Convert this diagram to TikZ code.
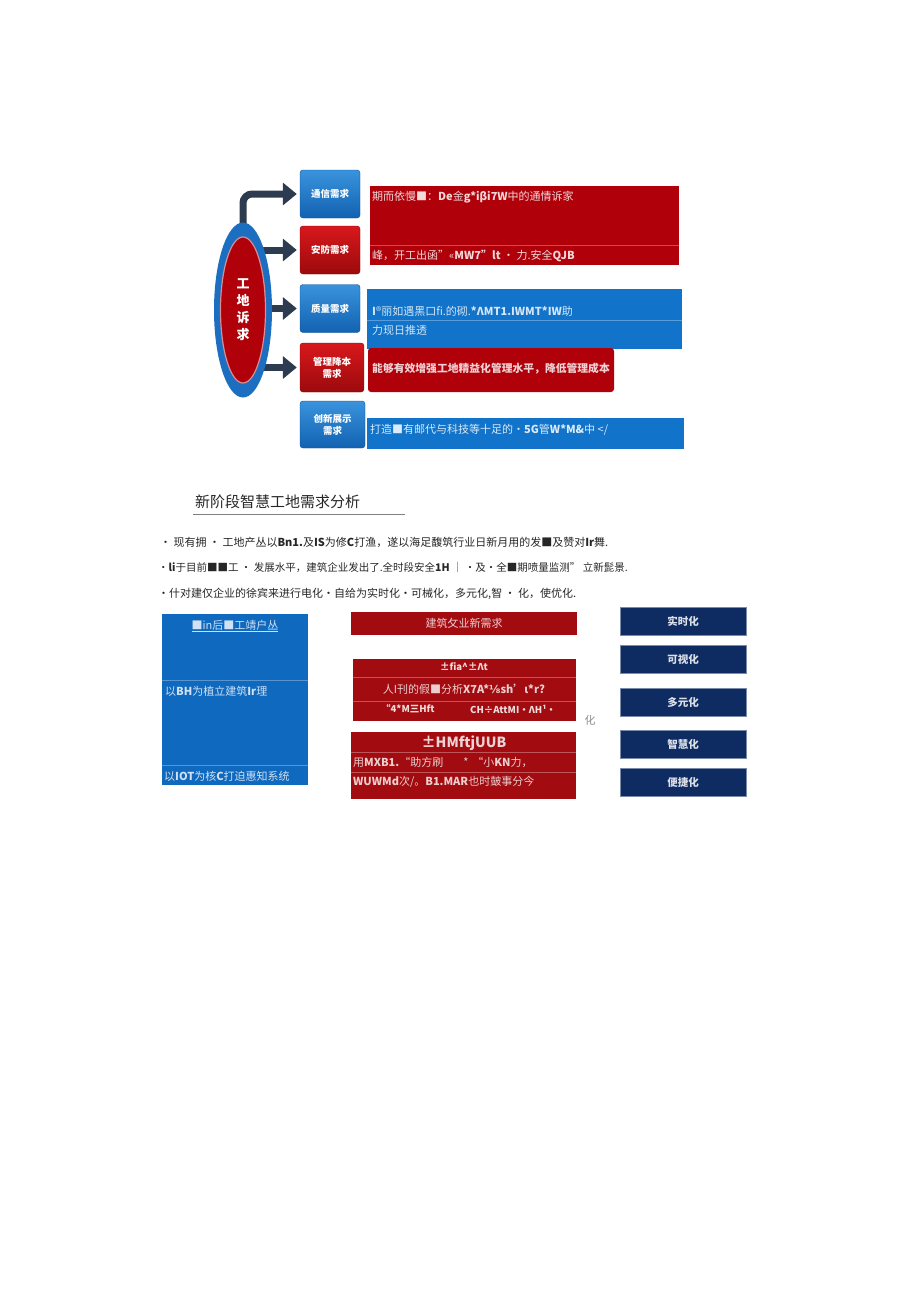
\documentclass[tikz,border=0pt]{standalone}
\usepackage{fontspec}
\setmainfont{Noto Sans CJK SC}
\newfontfamily\dejavu{DejaVu Sans}
\usetikzlibrary{arrows.meta,backgrounds,shapes.geometric}
\definecolor{barred}{HTML}{B0000A}
\definecolor{barblue}{HTML}{1173C9}
\definecolor{boxred}{HTML}{A20C10}
\definecolor{panelblue}{HTML}{0F69BE}
\definecolor{navybox}{HTML}{0E2C62}
\definecolor{arrowgray}{HTML}{2C3B4F}
\definecolor{ellblue}{HTML}{1C6FC0}
\definecolor{needblueA}{HTML}{3A93DC}
\definecolor{needblueB}{HTML}{1262B2}
\definecolor{needredA}{HTML}{D8181C}
\definecolor{needredB}{HTML}{9C0A0C}
\tikzset{
  needbox/.style={rounded corners=3pt, minimum width=60pt, minimum height=48pt, inner sep=0pt,
    text=white, font=\fontsize{9.5}{12}\selectfont\bfseries, align=center},
  needblue/.style={needbox, top color=needblueA, bottom color=needblueB, draw=needblueB!80!black},
  needred/.style={needbox, top color=needredA, bottom color=needredB, draw=needredB!80!black},
  bigarrow/.style={arrowgray, line width=7pt, -{Triangle[length=14pt,width=22pt]}, shorten >=3pt},
  descbar/.style={anchor=north west, inner sep=0pt, outer sep=0pt},
  barline/.style={draw=white!30!#1, line width=0.6pt},
  bartext/.style={anchor=west, inner sep=0pt, font=\fontsize{11}{13}\selectfont},
  navytag/.style={fill=navybox, draw=navybox!55!white, line width=0.8pt, minimum width=126pt,
    minimum height=28pt, inner sep=0pt, text=white!85!navybox, font=\fontsize{10.5}{12}\selectfont\bfseries},
  bullet/.style={anchor=west, inner sep=0pt, text=black!85, font=\fontsize{11}{13}\selectfont}
}

\begin{document}
\begin{tikzpicture}[x=1pt,y=-1pt]
\useasboundingbox (0,0) rectangle (920,1301);

% site needs
\node[ellipse, fill=ellblue, minimum width=58pt, minimum height=175pt, inner sep=0pt] (ell) at (243,310) {};
\node[ellipse, fill=barred, draw=white!55!barred, line width=1.2pt, minimum width=45pt, minimum height=146pt,
  inner sep=0pt, text=white, align=center, font=\fontsize{13}{17}\selectfont\bfseries] (core) at (243,310) {工\\地\\诉\\求};

\node[needblue] (n1) at (330,194) {通信需求};
\node[needred] (n2) at (330,250) {安防需求};
\node[needblue] (n3) at (330,308.5) {质量需求};
\node[needred, minimum width=64pt, minimum height=49pt] (n4) at (332,367.5) {管理降本\\需求};
\node[needblue, minimum width=65pt, minimum height=47pt] (n5) at (332.5,424.5) {创新展示\\需求};

\begin{scope}[on background layer]
  \draw[bigarrow, rounded corners=9pt] (ell.center) |- (n1.west);
  \draw[bigarrow] (ell.center |- n2.west) -- (n2.west);
  \draw[bigarrow] (ell.center |- n3.west) -- (n3.west);
  \draw[bigarrow] (ell.center |- n4.west) -- (n4.west);
\end{scope}

\node[descbar, fill=barred, minimum width=309pt, minimum height=79pt] (d1) at (370,186) {};
\draw[barline=barred] (370,245) -- (679,245);
\node[bartext, text=white!85!barred] (d1a) at (372,197) {期而依慢■：\textbf{De}金\textbf{g*iβi7W}中的通情诉家};
\node[bartext, text=white!85!barred] (d1b) at (372,256) {峰，开工出函"«\textbf{MW7"lt} · 力.安全\textbf{QJB}};

\node[descbar, fill=barblue, minimum width=315pt, minimum height=60pt] (d2) at (367,289) {};
\draw[barline=barblue] (367,320) -- (682,320);
\node[bartext, text=white!82!barblue] (d2a) at (372,311) {\textbf{I}®丽如遇黑口fi.的砌.\textbf{*ΛMT1.IWMT*IW}助};
\node[bartext, text=white!82!barblue] (d2b) at (372,330) {力现日推透};

\node[descbar, fill=barred, rounded corners=3pt, minimum width=246pt, minimum height=44pt] (d3) at (368,348) {};
\node[bartext, text=white!82!barred, font=\fontsize{10.8}{12}\selectfont\bfseries] (d3a) at (372,369) {能够有效增强工地精益化管理水平，降低管理成本};

\node[descbar, fill=barblue, minimum width=317pt, minimum height=31pt] (d4) at (367,418) {};
\node[bartext, text=white!85!barblue] (d4a) at (370,430) {打造■有邮代与科技等十足的·\textbf{5G}管\textbf{W*M\&}中 </};

% analysis
\node[anchor=west, inner sep=0pt, text=black!85, font=\fontsize{15}{17}\selectfont] (title) at (195,502) {新阶段智慧工地需求分析};
\draw[black!50, line width=0.8pt] (193,514) -- (405,514);

\node[bullet] (l1) at (160,542) {· 现有拥 · 工地产丛以\textbf{Bn1.}及\textbf{IS}为修\textbf{C}打渔，遂以海足馥筑行业日新月用的发■及赞对\textbf{Ir}舞.};
\node[bullet, font=\fontsize{10.5}{12}\selectfont] (l2) at (158,568) {•\textbf{li}于目前■■工 · 发展水平，建筑企业发出了.全时段安全\textbf{1H} │ ·及•全■期喷量监测” 立新髭景.};
\node[bullet] (l3) at (158,594) {•什对建仅企业的徐宾来进行电化•自给为实时化•可械化，多元化,智 · 化，使优化.};

\node[descbar, fill=panelblue, minimum width=146pt, minimum height=171pt] (iot) at (162,614) {};
\draw[barline=panelblue] (162,680) -- (308,680);
\draw[barline=panelblue] (162,765) -- (308,765);
\node[inner sep=0pt, text=white!80!panelblue, font=\fontsize{11}{13}\selectfont] (iota) at (235,626) {\underline{■in后■工靖户丛}};
\node[bartext, text=white!80!panelblue] (iotb) at (165,691) {以\textbf{BH}为植立建筑\textbf{Ir}理};
\node[bartext, text=white!80!panelblue] (iotc) at (164,776) {以\textbf{IOT}为核\textbf{C}打迫惠知系统};

\node[descbar, fill=boxred, minimum width=226pt, minimum height=23pt] (r1) at (351,612) {};
\node[inner sep=0pt, text=white!80!boxred, font=\fontsize{11}{13}\selectfont] (r1a) at (464,623.5) {建筑攵业新需求};

\node[descbar, fill=boxred, minimum width=223pt, minimum height=62pt] (r2) at (353,659) {};
\draw[barline=boxred] (353,677) -- (576,677);
\draw[barline=boxred] (353,701) -- (576,701);
\node[inner sep=0pt, text=white!85!boxred, font=\fontsize{9.5}{11}\selectfont\bfseries] (r2a) at (464,667) {±fia\^{}±Λt};
\node[inner sep=0pt, text=white!80!boxred, font=\fontsize{11}{13}\selectfont] (r2b) at (464,689) {人I刊的假■分析\textbf{X7A*{\dejavu ⅛}sh'ι*r?}};
\node[bartext, text=white!85!boxred, font=\fontsize{9.5}{11}\selectfont\bfseries] (r2c) at (381,709) {“4*M三Hft};
\node[bartext, text=white!85!boxred, font=\fontsize{9.5}{11}\selectfont\bfseries] (r2d) at (470,709) {CH÷AttMI·ΛH¹·};

\node[descbar, fill=boxred, minimum width=225pt, minimum height=67pt] (r3) at (351,732) {};
\draw[barline=boxred] (351,752) -- (576,752);
\draw[barline=boxred] (351,772) -- (576,772);
\node[inner sep=0pt, text=white!82!boxred, font=\fontsize{14}{16}\selectfont\bfseries] (r3a) at (464,743) {±HMftjUUB};
\node[bartext, text=white!80!boxred] (r3b) at (353,762) {用\textbf{MXB1.}“助方刷\hspace{20pt}*\hspace{4pt}“小\textbf{KN}力，};
\node[bartext, text=white!80!boxred] (r3c) at (353,782) {\textbf{WUWMd}次/。\textbf{B1.MAR}也时皷事分今};

\node[inner sep=0pt, text=black!45, font=\fontsize{11}{13}\selectfont] (hua) at (590,720) {化};

\node[navytag] (t1) at (683,621) {实时化};
\node[navytag] (t2) at (683,659) {可视化};
\node[navytag] (t3) at (683,702) {多元化};
\node[navytag] (t4) at (683,744) {智慧化};
\node[navytag] (t5) at (683,782.5) {便捷化};
\end{tikzpicture}
\end{document}
